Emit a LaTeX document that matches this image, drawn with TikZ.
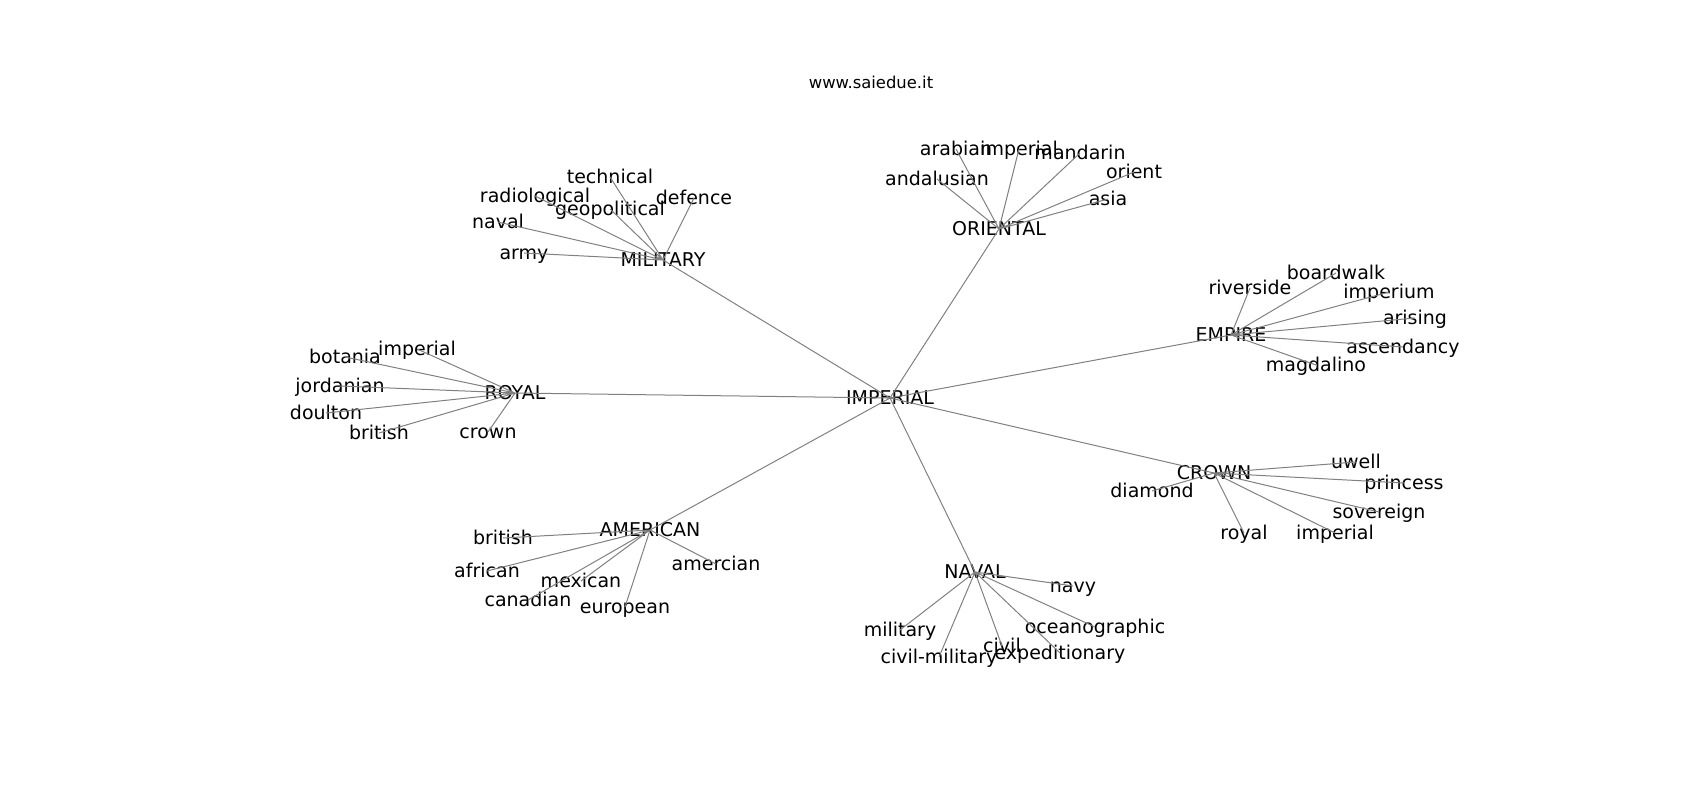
\documentclass[tikz,border=0pt]{standalone}
\usepackage{fontspec}
\setmainfont{DejaVu Sans}
\begin{document}
\begin{tikzpicture}[
    x=1pt, y=-1pt,
    font=\fontsize{19}{22}\selectfont,
    % Node styles:
    word/.style={inner sep=0pt, text height=1.26em, text depth=0pt},
    title/.style={word, font=\fontsize{16.4}{20}\selectfont},
    % Edge style:
    line/.style={draw=gray, line width=1pt},
]
\useasboundingbox (0,0) rectangle (1700,800);
\node[title] (site) at (871,82) {www.saiedue.it};

% --- HUB NODES (ALL CAPS) ---
\node[word] (imperial) at (890,398)  {IMPERIAL};
\node[word] (military) at (663,260)  {MILITARY};
\node[word] (oriental) at (999,229)  {ORIENTAL};
\node[word] (empire)   at (1231,335) {EMPIRE};
\node[word] (royal)    at (515,393)  {ROYAL};
\node[word] (crown)    at (1214,473) {CROWN};
\node[word] (american) at (650,530)  {AMERICAN};
\node[word] (naval)    at (975,572)  {NAVAL};

% --- MILITARY WORDS ---
\node[word] (m-technical)    at (610,177) {technical};
\node[word] (m-radiological) at (535,196) {radiological};
\node[word] (m-defence)      at (694,198) {defence};
\node[word] (m-geopolitical) at (610,209) {geopolitical};
\node[word] (m-naval)        at (498,222) {naval};
\node[word] (m-army)         at (524,253) {army};

% --- ORIENTAL WORDS ---
\node[word] (o-arabian)    at (956,149)  {arabian};
\node[word] (o-imperial)   at (1019,149) {imperial};
\node[word] (o-mandarin)   at (1080,153) {mandarin};
\node[word] (o-orient)     at (1134,172) {orient};
\node[word] (o-andalusian) at (937,179)  {andalusian};
\node[word] (o-asia)       at (1108,199) {asia};

% --- EMPIRE WORDS ---
\node[word] (e-boardwalk)  at (1336,273) {boardwalk};
\node[word] (e-riverside)  at (1250,288) {riverside};
\node[word] (e-imperium)   at (1389,292) {imperium};
\node[word] (e-arising)    at (1415,318) {arising};
\node[word] (e-ascendancy) at (1403,347) {ascendancy};
\node[word] (e-magdalino)  at (1316,365) {magdalino};

% --- ROYAL WORDS ---
\node[word] (r-imperial)  at (417,349) {imperial};
\node[word] (r-botania)   at (345,357) {botania};
\node[word] (r-jordanian) at (340,386) {jordanian};
\node[word] (r-doulton)   at (326,413) {doulton};
\node[word] (r-british)   at (379,433) {british};
\node[word] (r-crown)     at (488,432) {crown};

% --- CROWN WORDS ---
\node[word] (c-uwell)     at (1356,462) {uwell};
\node[word] (c-princess)  at (1404,483) {princess};
\node[word] (c-diamond)   at (1152,491) {diamond};
\node[word] (c-sovereign) at (1379,512) {sovereign};
\node[word] (c-royal)     at (1244,533) {royal};
\node[word] (c-imperial)  at (1335,533) {imperial};

% --- AMERICAN WORDS ---
\node[word] (a-british)  at (503,538) {british};
\node[word] (a-african)  at (487,571) {african};
\node[word] (a-amercian) at (716,564) {amercian};
\node[word] (a-mexican)  at (581,581) {mexican};
\node[word] (a-canadian) at (528,600) {canadian};
\node[word] (a-european) at (625,607) {european};

% --- NAVAL WORDS ---
\node[word] (n-navy)           at (1073,586) {navy};
\node[word] (n-oceanographic)  at (1095,627) {oceanographic};
\node[word] (n-military)       at (900,630)  {military};
\node[word] (n-civil)          at (1002,646) {civil};
\node[word] (n-expeditionary)  at (1060,653) {expeditionary};
\node[word] (n-civil-military) at (939,657)  {civil-military};

% --- EDGES ---
% Centre to the hubs
\draw[line] (imperial.center) -- (military.center)
            (imperial.center) -- (oriental.center)
            (imperial.center) -- (empire.center)
            (imperial.center) -- (royal.center)
            (imperial.center) -- (crown.center)
            (imperial.center) -- (american.center)
            (imperial.center) -- (naval.center);

% Hubs to their words
\draw[line] (military.center) -- (m-technical.center)
            (military.center) -- (m-radiological.center)
            (military.center) -- (m-defence.center)
            (military.center) -- (m-geopolitical.center)
            (military.center) -- (m-naval.center)
            (military.center) -- (m-army.center);
\draw[line] (oriental.center) -- (o-arabian.center)
            (oriental.center) -- (o-imperial.center)
            (oriental.center) -- (o-mandarin.center)
            (oriental.center) -- (o-orient.center)
            (oriental.center) -- (o-andalusian.center)
            (oriental.center) -- (o-asia.center);
\draw[line] (empire.center) -- (e-boardwalk.center)
            (empire.center) -- (e-riverside.center)
            (empire.center) -- (e-imperium.center)
            (empire.center) -- (e-arising.center)
            (empire.center) -- (e-ascendancy.center)
            (empire.center) -- (e-magdalino.center);
\draw[line] (royal.center) -- (r-imperial.center)
            (royal.center) -- (r-botania.center)
            (royal.center) -- (r-jordanian.center)
            (royal.center) -- (r-doulton.center)
            (royal.center) -- (r-british.center)
            (royal.center) -- (r-crown.center);
\draw[line] (crown.center) -- (c-uwell.center)
            (crown.center) -- (c-princess.center)
            (crown.center) -- (c-diamond.center)
            (crown.center) -- (c-sovereign.center)
            (crown.center) -- (c-royal.center)
            (crown.center) -- (c-imperial.center);
\draw[line] (american.center) -- (a-british.center)
            (american.center) -- (a-african.center)
            (american.center) -- (a-amercian.center)
            (american.center) -- (a-mexican.center)
            (american.center) -- (a-canadian.center)
            (american.center) -- (a-european.center);
\draw[line] (naval.center) -- (n-navy.center)
            (naval.center) -- (n-oceanographic.center)
            (naval.center) -- (n-military.center)
            (naval.center) -- (n-civil.center)
            (naval.center) -- (n-expeditionary.center)
            (naval.center) -- (n-civil-military.center);

\end{tikzpicture}
\end{document}
